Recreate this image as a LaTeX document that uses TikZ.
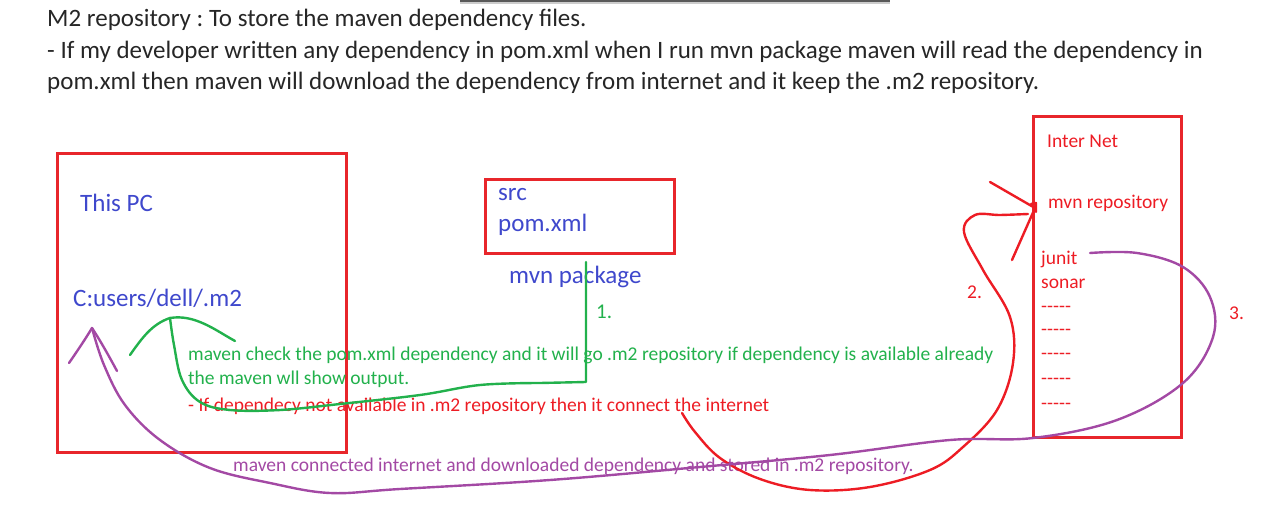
\documentclass[tikz,border=0pt]{standalone}
\usepackage{fontspec}
\setmainfont{Carlito}
\usetikzlibrary{positioning}
\definecolor{Frame}{HTML}{E8262B}
\definecolor{Ink}{HTML}{3F48CC}
\definecolor{Leaf}{HTML}{22B14C}
\definecolor{Plum}{HTML}{A349A4}
\definecolor{Alert}{HTML}{ED1C24}
\newcommand\dashrow{-\kern0pt-\kern0pt-\kern0pt-\kern0pt-}
\frenchspacing

\begin{document}
\begin{tikzpicture}[x=1pt,y=-1pt,
    frame/.style={draw=Frame,line width=3pt,inner sep=0pt},
    header/.style={anchor=west,inner sep=0pt,text=black!85,font=\fontsize{25}{30}\selectfont},
    bluetext/.style={anchor=west,inner sep=0pt,text=Ink,font=\fontsize{25}{30}\selectfont},
    small/.style={anchor=west,inner sep=0pt,font=\fontsize{19.5}{23}\selectfont},
    pen/.style={line width=2.4pt,line cap=round,line join=round}
  ]
    \useasboundingbox (0,0) rectangle (1280,518);
    \fill[black!65] (460,-2) rectangle (890,2);
    \fill[black!20] (460,2) rectangle (890,4);

    % header text
    \node[header] (h1) at (47,20) {M2 repository : To store the maven dependency files.};
    \node[header] (h2) at (47,52) {- If my developer written any dependency in pom.xml when I run mvn package maven will read the dependency in};
    \node[header] (h3) at (47,83) {pom.xml then maven will download the dependency from internet and it keep the .m2 repository.};

    % boxes
    \node[frame,minimum width=289pt,minimum height=298pt] (pc) at (201.5,303) {};
    \node[frame,minimum width=189pt,minimum height=74pt] (pom) at (579.5,217) {};
    \node[frame,minimum width=148pt,minimum height=321pt] (net) at (1107,277.5) {};

    \node[bluetext] (thispc) at (80,203) {This PC};
    \node[bluetext] (m2) at (73,298) {C:users/dell/.m2};
    \node[bluetext] (src) at (498,195) {src};
    \node[bluetext] (pomxml) at (498,225) {pom.xml};
    \node[bluetext] (cmd) at (509,277) {mvn package};

    \node[small,text=Alert] (inet) at (1047,141) {Inter Net};
    \node[small,text=Alert] (mvnrepo) at (1048,203) {mvn repository};
    \node[small,text=Alert] (junit) at (1041,259) {junit};
    \node[small,text=Alert] (sonar) at (1041,284) {sonar};
    \foreach \y in {309,332,356,381,406}
      \node[small,text=Alert] at (1041,\y) {\dashrow};

    % notes
    \node[small,text=Leaf] (check) at (188,355) {maven check the pom.xml dependency and it will go .m2 repository if dependency is available already};
    \node[small,text=Leaf] (output) at (188,379) {the maven wll show output.};
    \node[small,text=Alert] (notav) at (188,406) {- If dependecy not available in .m2 repository then it connect the internet};
    \node[small,text=Plum] (stored) at (233,466) {maven connected internet and downloaded dependency and stored in .m2 repository.};

    \node[small,text=Leaf,font=\fontsize{21}{24}\selectfont] (one) at (596,312) {1.};
    \node[small,text=Alert] (two) at (967,292) {2.};
    \node[small,text=Alert] (three) at (1229,313) {3.};

    % step 1: look in .m2
    \coordinate (gtip) at (170,318);
    \coordinate (gtop) at (586,262);
    \draw[pen,Leaf] (gtop) -- (586,382) -- (540,383)
      plot[smooth,tension=0.6] coordinates {(540,383) (480,385) (420,395) (340,404) (280,410) (230,410) (200,402) (182,380) (174,345) (gtip)};
    \draw[pen,Leaf] (130,355) .. controls (142,338) and (152,324) .. (gtip)
      .. controls (195,314) and (215,330) .. (235,341);

    % step 2: go to the internet
    \coordinate (rtip) at (1035,208);
    \coordinate (rstart) at (682,413);
    \draw[pen,Alert] plot[smooth,tension=0.6] coordinates {(rstart) (695,432) (720,458) (760,479) (810,490) (870,487) (930,470) (963,447) (997,410) (1013,363) (1010,317) (983,270) (964,232) (975,215) (1000,215) (1028,214)};
    \draw[pen,Alert] (990,182) -- (rtip) -- (1012,260);
    \draw[pen,Alert] (1031,204) -- (1036,203) -- (1036,212);

    % step 3: back to .m2
    \coordinate (ptip) at (92,328);
    \draw[pen,Plum] plot[smooth,tension=0.6] coordinates {(1090,253) (1137,253) (1183,267) (1210,297) (1213,337) (1183,383) (1117,420) (1033,438) (950,440) (830,455) (700,467) (550,480) (400,489) (330,493) (270,483) (210,468) (160,440) (125,405) (104,365) (ptip)};
    \draw[pen,Plum] (69,363) .. controls (78,350) and (86,338) .. (ptip)
      .. controls (100,340) and (110,358) .. (117,371);
  \end{tikzpicture}
\end{document}
